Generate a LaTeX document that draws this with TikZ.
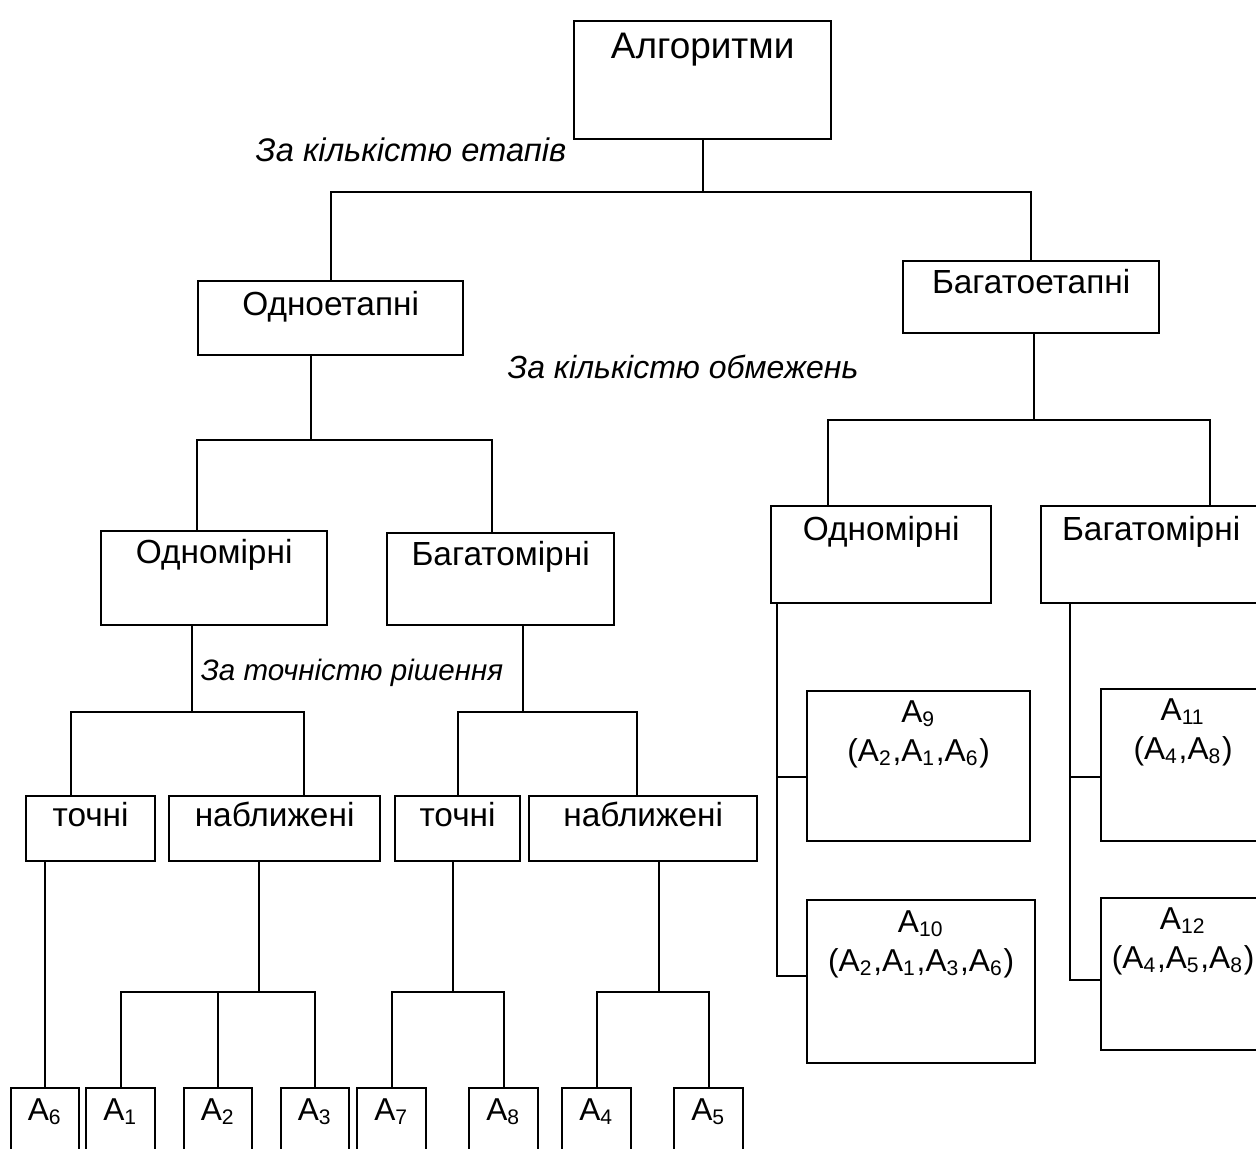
\documentclass[tikz,border=0pt]{standalone}
\usepackage{fontspec}
\setmainfont{Liberation Sans}
\usetikzlibrary{positioning}

\tikzset{
  box/.style={draw, anchor=north west, inner sep=0pt},
  lbl/.style={inner sep=0pt, align=center, font=\fontsize{9.5}{11}\selectfont},
  leaf/.style={inner sep=0pt, align=center, font=\fontsize{9}{11}\selectfont},
  crit/.style={inner sep=0pt, font=\fontsize{9.3}{11}\selectfont\itshape},
}

\begin{document}
\begin{tikzpicture}[x=0.01cm, y=-0.01cm, line width=0.6pt]
\useasboundingbox (0,0) rectangle (1256,1149);
\clip (0,0) rectangle (1256,1149);

% верхній рівень:
\node[box, minimum width=2.57cm, minimum height=1.18cm] (alg) at (573,20) {};
\node[lbl, font=\fontsize{10.5}{12}\selectfont, below=0.12cm of alg.north] (algT) {Алгоритми};
\node[box, minimum width=2.65cm, minimum height=0.74cm] (one) at (197,280) {};
\node[lbl, below=0.10cm of one.north] (oneT) {Одноетапні};
\node[box, minimum width=2.56cm, minimum height=0.72cm] (many) at (902,260) {};
\node[lbl, below=0.08cm of many.north] (manyT) {Багатоетапні};

% розмірність:
\node[box, minimum width=2.26cm, minimum height=0.94cm] (oneL) at (100,530) {};
\node[lbl, below=0.08cm of oneL.north] (oneLT) {Одномірні};
\node[box, minimum width=2.27cm, minimum height=0.92cm] (manyL) at (386,532) {};
\node[lbl, below=0.08cm of manyL.north] (manyLT) {Багатомірні};
\node[box, minimum width=2.20cm, minimum height=0.97cm] (oneR) at (770,505) {};
\node[lbl, below=0.10cm of oneR.north] (oneRT) {Одномірні};
\node[box, minimum width=2.20cm, minimum height=0.97cm] (manyR) at (1040,505) {};
\node[lbl, below=0.10cm of manyR.north] (manyRT) {Багатомірні};

% точність:
\node[box, minimum width=1.29cm, minimum height=0.65cm] (exL) at (25,795) {};
\node[lbl, below=0.06cm of exL.north] (exLT) {точні};
\node[box, minimum width=2.11cm, minimum height=0.65cm] (apL) at (168,795) {};
\node[lbl, below=0.06cm of apL.north] (apLT) {наближені};
\node[box, minimum width=1.25cm, minimum height=0.65cm] (exR) at (394,795) {};
\node[lbl, below=0.06cm of exR.north] (exRT) {точні};
\node[box, minimum width=2.28cm, minimum height=0.65cm] (apR) at (528,795) {};
\node[lbl, below=0.06cm of apR.north] (apRT) {наближені};

% алгоритми внизу:
\node[box, minimum width=0.68cm, minimum height=1cm] (a6) at (10,1087) {};
\node[leaf, below=0.11cm of a6.north] (a6T) {A\textsubscript{6}};
\node[box, minimum width=0.69cm, minimum height=1cm] (a1) at (85,1087) {};
\node[leaf, below=0.11cm of a1.north] (a1T) {A\textsubscript{1}};
\node[box, minimum width=0.68cm, minimum height=1cm] (a2) at (183,1087) {};
\node[leaf, below=0.11cm of a2.north] (a2T) {A\textsubscript{2}};
\node[box, minimum width=0.68cm, minimum height=1cm] (a3) at (280,1087) {};
\node[leaf, below=0.11cm of a3.north] (a3T) {A\textsubscript{3}};
\node[box, minimum width=0.69cm, minimum height=1cm] (a7) at (356,1087) {};
\node[leaf, below=0.11cm of a7.north] (a7T) {A\textsubscript{7}};
\node[box, minimum width=0.69cm, minimum height=1cm] (a8) at (468,1087) {};
\node[leaf, below=0.11cm of a8.north] (a8T) {A\textsubscript{8}};
\node[box, minimum width=0.69cm, minimum height=1cm] (a4) at (561,1087) {};
\node[leaf, below=0.11cm of a4.north] (a4T) {A\textsubscript{4}};
\node[box, minimum width=0.69cm, minimum height=1cm] (a5) at (673,1087) {};
\node[leaf, below=0.11cm of a5.north] (a5T) {A\textsubscript{5}};

% багатоетапні алгоритми:
\node[box, minimum width=2.23cm, minimum height=1.50cm] (a9) at (806,690) {};
\node[leaf, below=0.10cm of a9.north] (a9T) {A\textsubscript{9}\\(A\textsubscript{2},A\textsubscript{1},A\textsubscript{6})};
\node[box, minimum width=2.28cm, minimum height=1.63cm] (a10) at (806,899) {};
\node[leaf, below=0.11cm of a10.north] (a10T) {A\textsubscript{10}\\(A\textsubscript{2},A\textsubscript{1},A\textsubscript{3},A\textsubscript{6})};
\node[box, minimum width=1.64cm, minimum height=1.52cm] (a11) at (1100,688) {};
\node[leaf, below=0.10cm of a11.north] (a11T) {A\textsubscript{11}\\(A\textsubscript{4},A\textsubscript{8})};
\node[box, minimum width=1.64cm, minimum height=1.52cm] (a12) at (1100,897) {};
\node[leaf, below=0.10cm of a12.north] (a12T) {A\textsubscript{12}\\(A\textsubscript{4},A\textsubscript{5},A\textsubscript{8})};

% ознаки поділу:
\node[crit] (critSteps) at (411,150) {За кількістю етапів};
\node[crit, font=\fontsize{9.1}{11}\selectfont\itshape] (critLimits) at (683,367) {За кількістю обмежень};
\node[crit, font=\fontsize{8.4}{10}\selectfont\itshape] (critAcc) at (352,673) {За точністю рішення};

% лінії:
\draw (alg.south) -- ++(0,52) coordinate (j1);
\draw (one.north) |- (j1) -| (many.north);
\draw ([xshift=-0.2cm]one.south) -- ++(0,84) coordinate (j2);
\draw ([xshift=-0.17cm]oneL.north) |- (j2) -| ([xshift=-0.085cm]manyL.north);
\draw ([xshift=0.03cm]many.south) -- ++(0,86) coordinate (j3);
\draw ([xshift=0.58cm]oneR.north west) |- (j3) -| ([xshift=1.70cm]manyR.north west);
\draw ([xshift=-0.22cm]oneL.south) -- ++(0,86) coordinate (j4);
\draw ([xshift=-0.195cm]exL.north) |- (j4) -| ([xshift=0.295cm]apL.north);
\draw ([xshift=0.225cm]manyL.south) -- ++(0,86) coordinate (j5);
\draw (exR.north) |- (j5) -| ([xshift=-0.06cm]apR.north);
\draw (a6.north) -- (a6.north |- exL.south);
\draw ([xshift=-0.155cm]apL.south) -- ++(0,130) coordinate (j6);
\draw (a1.north) |- (j6) -| (a3.north);
\draw (a2.north) -- (a2.north |- j6);
\draw ([xshift=-0.045cm]exR.south) -- ++(0,130) coordinate (j7);
\draw (a7.north) |- (j7) -| (a8.north);
\draw ([xshift=0.16cm]apR.south) -- ++(0,130) coordinate (j8);
\draw (a4.north) |- (j8) -| (a5.north);
% праві гілки
\draw ([xshift=0.07cm]oneR.south west) |- ([yshift=0.06cm]a10.west);
\draw ([yshift=-0.11cm]a9.west) -| ([xshift=0.07cm]oneR.south west);
\draw ([xshift=0.30cm]manyR.south west) |- ([yshift=-0.06cm]a12.west);
\draw ([yshift=-0.12cm]a11.west) -| ([xshift=0.30cm]manyR.south west);
\end{tikzpicture}
\end{document}
